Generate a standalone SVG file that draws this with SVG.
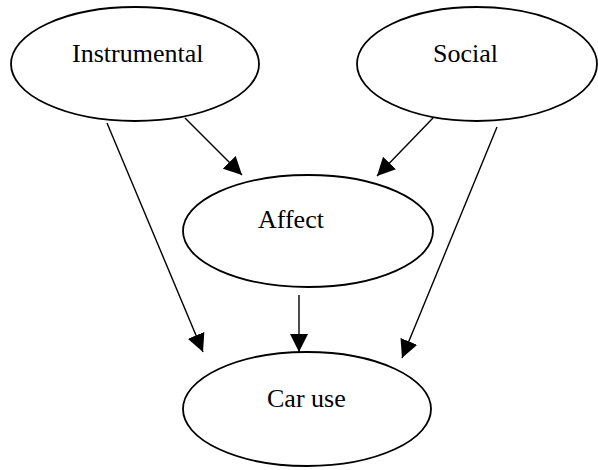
<svg xmlns="http://www.w3.org/2000/svg" width="598" height="470" viewBox="0 0 598 470">
<style>
.node ellipse{fill:#fff;stroke:#000;stroke-width:1.8}
.node text{font-family:"Liberation Serif","Times New Roman",serif;font-size:26px;fill:#000}
.edges line{stroke:#000;stroke-width:1.4}
</style>
<defs>
<marker id="ah" markerWidth="18" markerHeight="18" refX="18" refY="9" orient="auto" markerUnits="userSpaceOnUse">
<path d="M0,0 L18,9 L0,18 Z" fill="#000"/>
</marker>
</defs>
<rect width="598" height="470" fill="#fff"/>
<g id="instrumental" class="node">
<ellipse cx="135" cy="64" rx="124" ry="57"/>
<text x="72" y="62">Instrumental</text>
</g>
<g id="social" class="node">
<ellipse cx="477" cy="64" rx="120" ry="57"/>
<text x="433" y="62">Social</text>
</g>
<g id="affect" class="node">
<ellipse cx="308" cy="231" rx="125" ry="56"/>
<text x="258" y="228">Affect</text>
</g>
<g id="caruse" class="node">
<ellipse cx="307" cy="409" rx="124" ry="57"/>
<text x="267" y="407">Car use</text>
</g>
<g class="edges">
<line x1="107" y1="123" x2="203" y2="352" marker-end="url(#ah)"/>
<line x1="185" y1="118" x2="242" y2="175" marker-end="url(#ah)"/>
<line x1="433" y1="118" x2="377" y2="176" marker-end="url(#ah)"/>
<line x1="497" y1="127" x2="402" y2="358" marker-end="url(#ah)"/>
<line x1="299" y1="295" x2="299" y2="352" marker-end="url(#ah)"/>
</g>
</svg>
